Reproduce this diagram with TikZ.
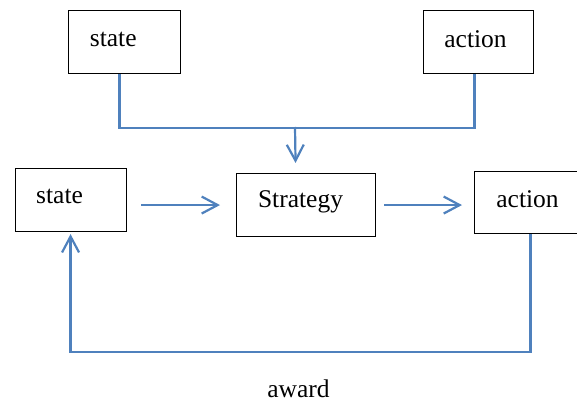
\documentclass[tikz,border=0pt]{standalone}
\usepackage{fontspec}
\setmainfont{Liberation Serif}
\usetikzlibrary{arrows.meta}
\definecolor{lineblue}{HTML}{4F81BD}
\begin{document}
\begin{tikzpicture}[x=1pt,y=-1pt,
  box/.style={draw=black,line width=1.1pt,rectangle,inner sep=0pt,anchor=north west},
  txt/.style={font=\fontsize{25.5}{30}\selectfont,inner sep=0pt},
  conn/.style={draw=lineblue,line width=2.2pt},
  arr/.style={conn,-{Straight Barb[length=16pt,width=17pt]}}]
\useasboundingbox (0,0) rectangle (577,403);
% boxes
\node[box,minimum width=112pt,minimum height=63pt,
  label={[txt,xshift=-11.3pt,yshift=3pt]center:state}] (ts) at (68,10) {};
\node[box,minimum width=110pt,minimum height=63pt,
  label={[txt,xshift=-3pt,yshift=3pt]center:action}] (ta) at (423,10) {};
\node[box,minimum width=111pt,minimum height=63pt,
  label={[txt,xshift=-11.5pt,yshift=4pt]center:state}] (ms) at (15,168) {};
\node[box,minimum width=139pt,minimum height=63pt,
  label={[txt,xshift=-5.5pt,yshift=3.5pt]center:Strategy}] (st) at (236,173) {};
\node[box,minimum width=102.5pt,minimum height=62pt,
  label={[txt,xshift=1.75pt,yshift=3.5pt]center:action}] (ra) at (474,171) {};
\node[txt] (aw) at (298.5,389) {award};
% connectors
\coordinate (j) at (295,127);
\draw[conn] ([xshift=-5pt]ts.south) -- ++(0,54) -| ([xshift=-4pt]ta.south);
\draw[arr] (j) -- ([xshift=-10.5pt,yshift=10pt]st.north);
\draw[arr] ([xshift=14pt,yshift=-5pt]ms.east) -- ([xshift=-16pt]st.west);
\draw[arr] ([xshift=8pt]st.east) -- ([xshift=-12pt,yshift=-2.5pt]ra.west);
\draw[arr] ([xshift=4.75pt]ra.south) -- ++(0,118) -| ([xshift=-0.5pt,yshift=-2pt]ms.south);
\end{tikzpicture}
\end{document}
